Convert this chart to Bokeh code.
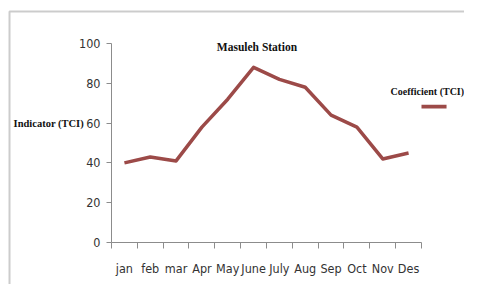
from bokeh.plotting import figure
from bokeh.models import Range1d, FixedTicker, Label, BoxAnnotation
from bokeh.embed import file_html
from bokeh.resources import INLINE

months = ["jan", "feb", "mar", "Apr", "May", "June", "July", "Aug", "Sep", "Oct", "Nov", "Des"]
tci = [40, 43, 41, 58, 72, 88, 82, 78, 64, 58, 42, 45]
y_ticks = [0, 20, 40, 60, 80, 100]
title_text = "Masuleh Station"
ylabel_text = "Indicator (TCI)"
legend_text = "Coefficient (TCI)"

xs = [i + 0.5 for i in range(len(months))]
bounds = list(range(len(months) + 1))

LINE = "#9c4a48"
AXIS = "#8c8c8c"
TICK_FONT = "'DejaVu Sans Condensed', 'Liberation Sans Narrow', Lato, sans-serif"

p = figure(width=464, height=284, output_backend="svg", toolbar_location=None,
           x_range=Range1d(-4.297, 13.665), y_range=Range1d(-21.106, 121.61),
           min_border=0, min_border_left=0, min_border_right=0,
           min_border_top=0, min_border_bottom=0)
p.outline_line_color = None
p.xgrid.grid_line_color = None
p.ygrid.grid_line_color = None
p.background_fill_color = "white"
p.border_fill_color = "white"

p.line(xs, tci, line_color=LINE, line_width=3.5, line_join="round")

# x axis
p.xaxis.fixed_location = 0
p.xaxis.bounds = (0, len(months))
p.xaxis.ticker = FixedTicker(ticks=xs, minor_ticks=bounds)
p.xaxis.major_label_overrides = {x: m for x, m in zip(xs, months)}
p.xaxis.major_tick_out = 0
p.xaxis.major_tick_in = 0
p.xaxis.minor_tick_out = 6
p.xaxis.minor_tick_in = 0
p.xaxis.major_label_standoff = 13

# y axis
p.yaxis.fixed_location = 0
p.yaxis.bounds = (0, 100)
p.yaxis.ticker = FixedTicker(ticks=y_ticks)
p.yaxis.major_tick_out = 5
p.yaxis.major_tick_in = 0
p.yaxis.minor_tick_line_color = None
p.yaxis.major_label_standoff = 6

for ax in (p.xaxis, p.yaxis):
    ax.axis_line_color = AXIS
    ax.major_tick_line_color = AXIS
    ax.major_label_text_font = TICK_FONT
    ax.major_label_text_font_size = "12.5px"
    ax.major_label_text_color = "#333333"
p.xaxis.minor_tick_line_color = AXIS

serif = dict(text_font="Liberation Serif", text_font_style="bold", text_color="#111111",
             text_baseline="middle")
p.add_layout(Label(x=5.63, y=98.2, text=title_text, text_align="center",
                   text_font_size="11.5px", **serif))
p.add_layout(Label(x=-3.79, y=60.0, text=ylabel_text, text_align="left",
                   text_font_size="10.5px", **serif))
p.add_layout(Label(x=10.80, y=75.9, text=legend_text, text_align="left",
                   text_font_size="10px", **serif))
p.add_layout(BoxAnnotation(left=12.0, right=12.97, bottom=67.4, top=69.2,
                           fill_color=LINE, fill_alpha=1, line_color=None))
# outer frame (only top and left edges fall inside the picture)
p.add_layout(BoxAnnotation(left=-3.948, top=116.08, right=20, bottom=-60,
                           fill_alpha=0, line_color="#555555", line_width=2))

open("out.html", "w").write(file_html(p, INLINE))
